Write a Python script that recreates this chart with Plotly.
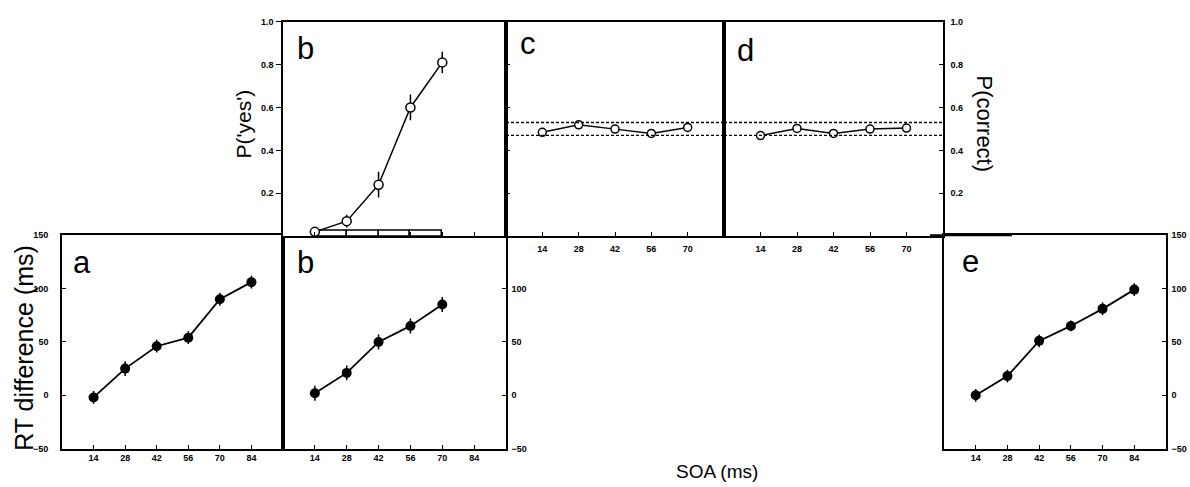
import plotly.graph_objects as go

# figure fills the whole 1190x487 window (body margin removed after load)
W, H = 1190, 487

# ---------------- data ----------------
soa6 = [14, 28, 42, 56, 70, 84]
soa5 = [14, 28, 42, 56, 70]

# RT difference (ms)
rt_a = [-2, 25, 46, 54, 90, 106]
rt_a_err = [6, 7, 6, 6, 6, 6]
rt_b = [2, 21, 50, 65, 85]
rt_b_err = [7, 7, 7, 7, 7]
rt_e = [0, 18, 51, 65, 81, 99]
rt_e_err = [6, 6, 6, 5, 6, 6]

# P('yes') panel b
pyes_b = [0.02, 0.07, 0.24, 0.60, 0.81]
pyes_b_err = [0.01, 0.03, 0.06, 0.06, 0.05]
# low baseline (false alarms) drawn as boxes under panel b
fa_x = [21, 35, 49, 63]
fa_y = [0.027, 0.027, 0.027, 0.027]

# P(correct) panels c and d
pc_c = [0.484, 0.519, 0.499, 0.479, 0.507]
pc_d = [0.469, 0.502, 0.479, 0.499, 0.504]
chance_band = [0.47, 0.53]

rt_ticks = [-50, 0, 50, 100, 150]
p_ticks = [0.2, 0.4, 0.6, 0.8, 1.0]
p_ticktext = ["0.2", "0.4", "0.6", "0.8", "1.0"]

# ---------------- helpers ----------------
def px_x(a):
    return a / W

def px_y(a):
    return 1 - a / H

def dx(a, b):
    return [px_x(a), px_x(b)]

def dy(top, bottom):
    return [px_y(bottom), px_y(top)]

FONT = "Liberation Sans, Arial, sans-serif"
tickfont = dict(family=FONT, size=9, color="black", weight="bold")
LW = 1.6

def axis_common(**kw):
    d = dict(showline=True, linecolor="black", linewidth=LW, mirror=True,
             showgrid=False, zeroline=False, ticks="inside", ticklen=4,
             tickwidth=1.2, tickcolor="black", tickfont=tickfont)
    d.update(kw)
    return d

fig = go.Figure()

def rt_trace(x, y, err, xa, ya):
    return go.Scatter(
        x=x, y=y, mode="lines+markers", xaxis=xa, yaxis=ya,
        line=dict(color="black", width=1.8),
        marker=dict(symbol="circle", size=10, color="black"),
        error_y=dict(type="data", array=err, color="black", thickness=1.5, width=0),
        showlegend=False, cliponaxis=False)

def p_trace(x, y, xa, ya, err=None, size=8):
    t = go.Scatter(
        x=x, y=y, mode="lines+markers", xaxis=xa, yaxis=ya,
        line=dict(color="black", width=1.5),
        marker=dict(symbol="circle", size=size, color="white",
                    line=dict(color="black", width=1.5)),
        showlegend=False, cliponaxis=False)
    if err is not None:
        t.error_y = dict(type="data", array=err, color="black", thickness=1.5, width=0)
    return t

# lower row
fig.add_trace(rt_trace(soa6, rt_a, rt_a_err, "x", "y"))
fig.add_trace(rt_trace(soa5, rt_b, rt_b_err, "x2", "y2"))
fig.add_trace(rt_trace(soa6, rt_e, rt_e_err, "x3", "y3"))

# top row
fig.add_trace(go.Bar(x=fa_x, y=fa_y, width=14, xaxis="x4", yaxis="y4",
                     marker=dict(color="white", line=dict(color="black", width=1.5)),
                     showlegend=False))
fig.add_trace(p_trace(soa5, pyes_b, "x4", "y4", err=pyes_b_err, size=9))
fig.add_trace(p_trace(soa5, pc_c, "x5", "y5"))
fig.add_trace(p_trace(soa5, pc_d, "x6", "y6"))

low_top, low_bot = 235, 453
top_top, top_bot = 17, 236

fig.update_layout(
    width=W, height=H,
    margin=dict(l=0, r=0, t=0, b=0),
    paper_bgcolor="white", plot_bgcolor="white",
    bargap=0,
    # panel a
    xaxis=axis_common(domain=dx(62, 283), range=[0, 98], tickvals=soa6),
    yaxis=axis_common(domain=dy(low_top, low_bot), range=[-50, 150], tickvals=rt_ticks,
                      ticklabelstandoff=10),
    # panel b (lower)
    xaxis2=axis_common(domain=dx(283, 506), range=[0, 98], tickvals=soa6, anchor="y2"),
    yaxis2=axis_common(domain=dy(low_top, low_bot), range=[-50, 150], tickvals=rt_ticks[:4],
                       side="right", anchor="x2", ticklabelstandoff=2),
    # panel e
    xaxis3=axis_common(domain=dx(944, 1166), range=[0, 98], tickvals=soa6, anchor="y3"),
    yaxis3=axis_common(domain=dy(low_top, low_bot), range=[-50, 150], tickvals=rt_ticks,
                       side="right", anchor="x3", ticklabelstandoff=2),
    # panel b (top)
    xaxis4=axis_common(domain=dx(283, 506), range=[0, 98], tickvals=soa6, anchor="y4",
                       showticklabels=False),
    yaxis4=axis_common(domain=dy(top_top, top_bot), range=[0, 1], tickvals=p_ticks,
                       ticktext=p_ticktext, anchor="x4", ticks="outside", ticklen=5,
                       ticklabelstandoff=1),
    # panel c
    xaxis5=axis_common(domain=dx(506, 724), range=[0, 84], tickvals=soa5, anchor="y5",
                       ticklabelstandoff=3),
    yaxis5=axis_common(domain=dy(top_top, top_bot), range=[0, 1], tickvals=p_ticks,
                       anchor="x5", showticklabels=False),
    # panel d
    xaxis6=axis_common(domain=dx(724, 943), range=[0, 84], tickvals=soa5, anchor="y6",
                       ticklabelstandoff=3),
    yaxis6=axis_common(domain=dy(top_top, top_bot), range=[0, 1], tickvals=p_ticks,
                       ticktext=p_ticktext, side="right", anchor="x6", ticklabelstandoff=4),
)

# chance band lines in c and d
for xr, yr in (("x5", "y5"), ("x6", "y6")):
    for yv in chance_band:
        fig.add_shape(type="line", xref=f"{xr} domain", yref=yr, x0=0, x1=1, y0=yv, y1=yv,
                      line=dict(color="black", width=1.4, dash="3px,2px"))

# heavy rule segment over the top-left of panel e (as in the original figure)
fig.add_shape(type="line", xref="paper", yref="paper", x0=px_x(930), x1=px_x(1012),
              y0=px_y(235), y1=px_y(235), line=dict(color="black", width=2))

# panel letters
letters = [("a", 71, 263), ("b", 295, 263), ("e", 960, 262),
           ("b", 295, 44), ("c", 518, 39), ("d", 735, 46)]
for txt, px, py in letters:
    fig.add_annotation(text=txt, x=px_x(px), y=px_y(py), xref="paper", yref="paper",
                       xanchor="left", yanchor="middle", showarrow=False,
                       font=dict(family=FONT, size=31, color="black"))

# axis titles
def title(text, px, py, size, angle=0):
    fig.add_annotation(text=text, x=px_x(px), y=px_y(py), xref="paper", yref="paper",
                       xanchor="center", yanchor="middle", textangle=angle,
                       showarrow=False, font=dict(family=FONT, size=size, color="black"))

title("RT difference (ms)", 24, 350, 25, -90)
title("P('yes')", 243, 122, 21, -90)
title("P(correct)", 985, 122, 22, 90)
title("SOA (ms)", 717, 476, 19)

fig.write_html(
    "out.html",
    config={"displayModeBar": False},
    post_script="document.body.style.margin='0';document.body.style.overflow='hidden';",
)
